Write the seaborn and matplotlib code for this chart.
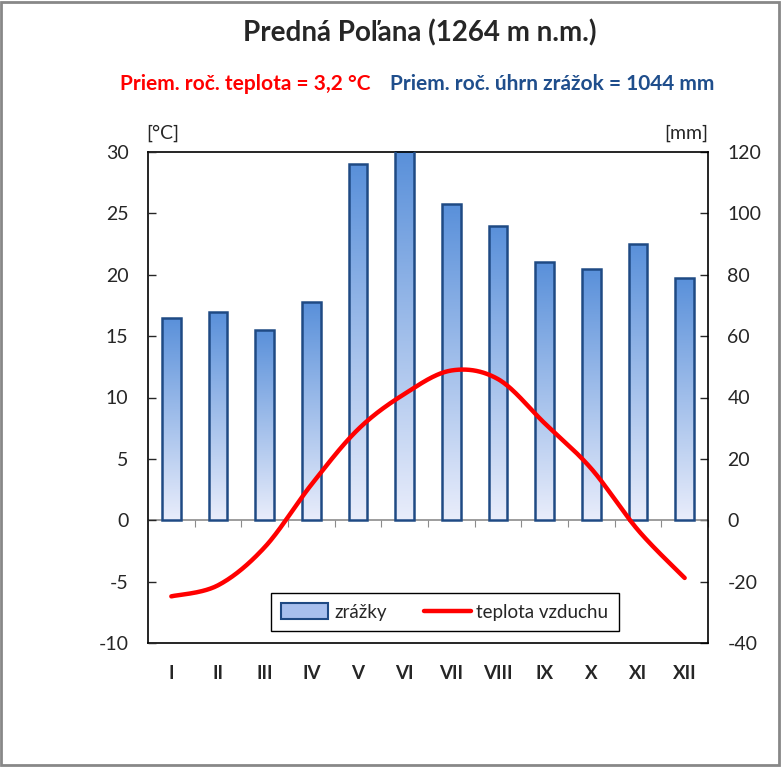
import matplotlib
matplotlib.use("Agg")
import matplotlib.pyplot as plt
import matplotlib.colors as mcolors
from matplotlib.patches import Patch, Rectangle
from matplotlib.lines import Line2D
import seaborn as sns
import numpy as np
import pandas as pd

# data
months = ["I", "II", "III", "IV", "V", "VI", "VII", "VIII", "IX", "X", "XI", "XII"]
precip_mm = [66, 68, 62, 71, 116, 127, 103, 96, 84, 82, 90, 79]
temp_c = [-6.2, -5.3, -2.2, 2.9, 7.4, 10.3, 12.2, 11.5, 7.9, 4.2, -0.8, -4.7]
temp_ticks = [-10, -5, 0, 5, 10, 15, 20, 25, 30]
precip_ticks = [-40, -20, 0, 20, 40, 60, 80, 100, 120]

title = "Predná Poľana (1264 m n.m.)"
sub_temp = "Priem. roč. teplota = 3,2 °C"
sub_prec = "Priem. roč. úhrn zrážok = 1044 mm"

sns.set_style("white")
plt.rcParams["font.family"] = ["Lato", "DejaVu Sans"]
plt.rcParams["axes.unicode_minus"] = False

bar_edge = "#1F4A84"
grad_top = "#5990DA"
grad_bottom = "#E9EDFB"
red = "#FF0000"
tick_fs = 14

fig = plt.figure(figsize=(7.81, 7.67), dpi=100)
W, H = 781, 767
ax_p = fig.add_axes([148 / W, (H - 643) / H, 560 / W, 491 / H])

df = pd.DataFrame({"month": months, "precip": precip_mm})
sns.barplot(data=df, x="month", y="precip", ax=ax_p, width=0.4,
            facecolor="none", edgecolor=bar_edge, linewidth=1.8, zorder=3)

p_lim = (-40, 120)
# gradient fill inside each bar
cmap = mcolors.LinearSegmentedColormap.from_list("g", [grad_bottom, grad_top])
grad = np.linspace(0, 1, 256).reshape(-1, 1)
for p in ax_p.patches:
    x0, y0 = p.get_x(), p.get_y()
    w, h = p.get_width(), p.get_height()
    top = min(y0 + h, p_lim[1])
    im = ax_p.imshow(grad, extent=[x0, x0 + w, y0, top], origin="lower",
                     aspect="auto", cmap=cmap, zorder=2)
    im.set_clip_path(p)

ax_p.set_xlim(-0.5, 11.5)
ax_p.set_ylim(*p_lim)
ax_p.set_xlabel("")
ax_p.set_ylabel("")
ax_p.set_xticks(range(12))
ax_p.set_xticklabels(months, fontweight="bold", fontsize=13.5)
ax_p.tick_params(axis="x", length=0, pad=16)
ax_p.axhline(0, color="#8C8C8C", lw=1.2, zorder=1)
for s in ax_p.spines.values():
    s.set_color("black")
    s.set_linewidth(1.2)

# small category ticks on the zero line
sec = ax_p.secondary_xaxis(0.25)
sec.set_xticks(np.arange(12) + 0.5)
sec.set_xticklabels([])
sec.set_xticks(np.arange(12), minor=True)
sec.tick_params(axis="x", which="major", direction="out", length=5, color="#8C8C8C")
sec.tick_params(axis="x", which="minor", direction="in", length=4, color="#8C8C8C")
sec.spines["bottom"].set_visible(False)
sec.spines["top"].set_visible(False)

# temperature line, smoothed like a spreadsheet curve
ax_t = ax_p.twinx()
x = np.arange(len(temp_c), dtype=float)
y = np.array(temp_c)
xs, ys = [], []
xp = np.concatenate([[x[0]], x, [x[-1]]])
yp = np.concatenate([[y[0]], y, [y[-1]]])
t = np.linspace(0, 1, 40)
for i in range(1, len(xp) - 2):
    p0, p1, p2, p3 = (np.array([xp[j], yp[j]]) for j in (i - 1, i, i + 1, i + 2))
    c1 = p1 + (p2 - p0) / 6
    c2 = p2 - (p3 - p1) / 6
    pts = ((1 - t) ** 3)[:, None] * p1 + (3 * (1 - t) ** 2 * t)[:, None] * c1 \
        + (3 * (1 - t) * t ** 2)[:, None] * c2 + (t ** 3)[:, None] * p2
    xs.extend(pts[:, 0])
    ys.extend(pts[:, 1])
sns.lineplot(x=xs, y=ys, ax=ax_t, color=red, lw=3.2, sort=False,
             solid_capstyle="round", zorder=5)
ax_t.set_ylim(-10, 30)
ax_t.set_yticks(temp_ticks)
ax_t.set_ylabel("")
for s in ax_t.spines.values():
    s.set_visible(False)

# axis sides: temperature on the left, precipitation on the right
ax_t.yaxis.tick_left()
ax_p.yaxis.tick_right()
ax_p.set_yticks(precip_ticks)
ax_t.tick_params(axis="y", direction="in", length=6, width=1, labelsize=tick_fs,
                 pad=14, left=True, right=False, labelleft=True, labelright=False)
ax_p.tick_params(axis="y", direction="in", length=6, width=1, labelsize=tick_fs,
                 pad=14, right=True, left=False, labelright=True, labelleft=False)

# unit labels
fig.text(146 / W, 1 - 133 / H, "[°C]", fontsize=tick_fs, ha="left", va="center")
fig.text(708 / W, 1 - 133 / H, "[mm]", fontsize=tick_fs, ha="right", va="center")

# titles
fig.text(420 / W, 1 - 33 / H, title, fontsize=20, fontweight="bold",
         ha="center", va="center")
fig.text(370 / W, 1 - 84 / H, sub_temp, fontsize=15, fontweight="bold",
         color=red, ha="right", va="center")
fig.text(390 / W, 1 - 84 / H, sub_prec, fontsize=15, fontweight="bold",
         color="#1F4E8C", ha="left", va="center")

# legend
handles = [Patch(facecolor="#A8C0EE", edgecolor=bar_edge, linewidth=1.5),
           Line2D([], [], color=red, lw=3.2)]
leg = ax_t.legend(handles, ["zrážky", "teplota vzduchu"], ncol=2,
                  loc="center", bbox_to_anchor=(445 / W, 1 - 612 / H),
                  bbox_transform=fig.transFigure, frameon=True, fancybox=False,
                  edgecolor="black", fontsize=13.5, handlelength=2.5,
                  handleheight=0.9, columnspacing=2.0, handletextpad=0.3,
                  borderpad=0.55, borderaxespad=0)
leg.get_frame().set_linewidth(1.0)
leg.get_frame().set_alpha(1)

# outer border of the chart
fig.patches.append(Rectangle((0.001, 0.002), 0.996, 0.996, transform=fig.transFigure,
                             fill=False, edgecolor="#888888", lw=2))

fig.savefig("out.png", dpi=100)
